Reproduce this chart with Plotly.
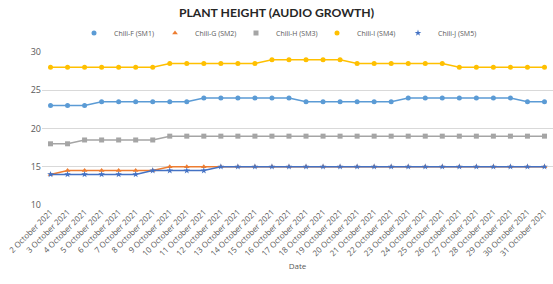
import plotly.graph_objects as go

dates = [f"{d} October 2021" for d in range(2, 32)]

sm1 = [23, 23, 23, 23.5, 23.5, 23.5, 23.5, 23.5, 23.5, 24, 24, 24, 24, 24, 24,
       23.5, 23.5, 23.5, 23.5, 23.5, 23.5, 24, 24, 24, 24, 24, 24, 24, 23.5, 23.5]
sm2 = [14, 14.5, 14.5, 14.5, 14.5, 14.5, 14.5, 15, 15, 15, 15, 15, 15, 15, 15,
       15, 15, 15, 15, 15, 15, 15, 15, 15, 15, 15, 15, 15, 15, 15]
sm3 = [18, 18, 18.5, 18.5, 18.5, 18.5, 18.5, 19, 19, 19, 19, 19, 19, 19, 19,
       19, 19, 19, 19, 19, 19, 19, 19, 19, 19, 19, 19, 19, 19, 19]
sm4 = [28, 28, 28, 28, 28, 28, 28, 28.5, 28.5, 28.5, 28.5, 28.5, 28.5, 29, 29,
       29, 29, 29, 28.5, 28.5, 28.5, 28.5, 28.5, 28.5, 28, 28, 28, 28, 28, 28]
sm5 = [14, 14, 14, 14, 14, 14, 14.5, 14.5, 14.5, 14.5, 15, 15, 15, 15, 15,
       15, 15, 15, 15, 15, 15, 15, 15, 15, 15, 15, 15, 15, 15, 15]

series = [
    ("Chili-F (SM1)", sm1, "#5B9BD5", "circle"),
    ("Chili-G (SM2)", sm2, "#ED7D31", "triangle-up"),
    ("Chili-H (SM3)", sm3, "#A5A5A5", "square"),
    ("Chili-I (SM4)", sm4, "#FFC000", "circle"),
    ("Chili-J (SM5)", sm5, "#4472C4", "star"),
]

fig = go.Figure()
for name, vals, color, sym in series:
    fig.add_trace(go.Scatter(
        x=dates, y=vals, name=name, mode="lines+markers", showlegend=False,
        line=dict(color=color, width=1.5),
        marker=dict(color=color, symbol=sym, size=5),
    ))
# legend entries show marker only (as in the reference)
for name, vals, color, sym in series:
    fig.add_trace(go.Scatter(
        x=[None], y=[None], name=name, mode="markers", showlegend=True,
        marker=dict(color=color, symbol=sym, size=5),
    ))

fig.update_layout(
    width=553, height=284,
    margin=dict(l=42, r=0, t=52, b=79, autoexpand=False),
    paper_bgcolor="white", plot_bgcolor="white",
    font=dict(family="Open Sans, Liberation Sans, sans-serif", color="#595959", size=8),
    title=dict(text="<b>PLANT HEIGHT (AUDIO GROWTH)</b>", x=0.5, xanchor="center",
               y=1 - 12.5 / 284, yanchor="middle", yref="container",
               font=dict(family="Lato, Open Sans, sans-serif",
                         size=12.2, color="#262626")),
    legend=dict(orientation="h", x=0.5, xanchor="center", xref="container",
                y=1 - 33 / 284, yanchor="middle", yref="container",
                font=dict(size=7, color="#595959"), itemwidth=30,
                entrywidth=36, entrywidthmode="pixels", tracegroupgap=0),
    showlegend=True,
)
fig.update_xaxes(
    type="category", range=[-0.5, 29.5], tickangle=-45,
    tickfont=dict(size=8, color="#595959"),
    showgrid=False, showline=False, ticks="", automargin=False,
    title=dict(text="Date", font=dict(size=8, color="#595959"), standoff=6),
)
fig.update_yaxes(
    range=[10, 30], dtick=5, showgrid=True, gridcolor="#D9D9D9", gridwidth=1,
    zeroline=False, showline=False, ticks="", automargin=False,
    tickfont=dict(size=9, color="#595959"),
)

fig.write_html("out.html", config={"displayModeBar": False},
               post_script="document.body.style.margin='0';document.body.style.overflow='hidden';")
